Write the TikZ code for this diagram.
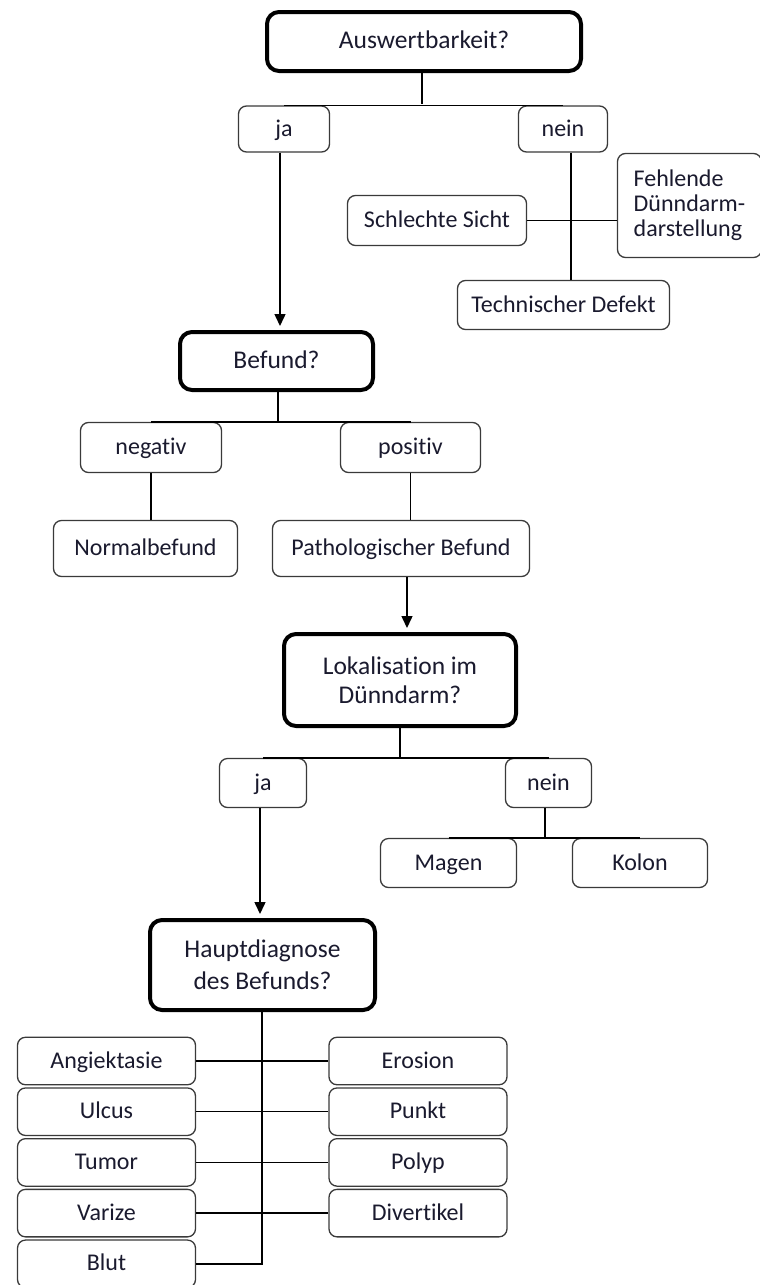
\documentclass[tikz,border=0pt]{standalone}
\usepackage{fontspec}
\setmainfont{Carlito}[Ligatures=CommonOff]
\usetikzlibrary{arrows.meta}
\definecolor{boxline}{HTML}{3A3A3A}
\definecolor{txt}{HTML}{1A1A2E}
\begin{document}
\begin{tikzpicture}[x=1pt,y=-1pt,
  every node/.style={font=\fontsize{24}{29}\selectfont, text=txt, inner sep=0pt},
  one/.style={text height=18pt, text depth=4pt},
  box/.style={draw=boxline, line width=1.3pt, rounded corners=8pt, fill=white, align=center},
  sbox/.style={box, one},
  qbox/.style={draw=black, line width=4pt, rounded corners=12pt, fill=white, align=center,
               font=\fontsize{25.5}{29}\selectfont},
  link/.style={draw=black, line width=1.5pt},
  arr/.style={link, -{Triangle[width=11pt,length=12pt]}, shorten >=4pt}]
\useasboundingbox (0,0) rectangle (760,1285);

% nodes
\node[qbox, one, minimum width=314pt, minimum height=59pt] (ausw) at (424,41.5) {Auswertbarkeit?};
\node[sbox, minimum width=91pt, minimum height=46pt] (ja1) at (284,129) {ja};
\node[sbox, minimum width=89pt, minimum height=46pt] (nein1) at (563,129) {nein};
\node[sbox, minimum width=179pt, minimum height=50pt] (sicht) at (437,220.5) {Schlechte Sicht};
\node[box, minimum width=144pt, minimum height=104pt, align=left,
      font=\fontsize{24}{25}\selectfont] (fehl) at (689.5,205.5) {Fehlende\\Dünndarm-\\darstellung};
\node[sbox, minimum width=212pt, minimum height=49pt] (tech) at (563.5,305) {Technischer Defekt};

\node[qbox, one, minimum width=193pt, minimum height=58pt] (befund) at (276.5,361) {Befund?};
\node[sbox, minimum width=141pt, minimum height=50pt] (neg) at (151,447.5) {negativ};
\node[sbox, minimum width=140pt, minimum height=50pt] (pos) at (410.5,447.5) {positiv};
\node[sbox, minimum width=184pt, minimum height=56pt] (normal) at (145.5,548.5) {Normalbefund};
\node[sbox, minimum width=257pt, minimum height=56pt] (patho) at (401,548.5) {Pathologischer Befund};

\node[qbox, minimum width=232pt, minimum height=92pt] (lok) at (400,680) {Lokalisation im\\Dünndarm?};
\node[sbox, minimum width=87pt, minimum height=49pt] (ja2) at (263,783) {ja};
\node[sbox, minimum width=86pt, minimum height=49pt] (nein2) at (548.5,783) {nein};
\node[sbox, minimum width=136pt, minimum height=49pt] (magen) at (448.5,863) {Magen};
\node[sbox, minimum width=135pt, minimum height=49pt] (kolon) at (640,863) {Kolon};

\node[qbox, minimum width=225pt, minimum height=90pt, font=\fontsize{25.5}{32}\selectfont] (haupt) at (262.5,965) {Hauptdiagnose\\des Befunds?};

\tikzset{lbox/.style={sbox, minimum width=178pt, minimum height=47.5pt}}
\node[lbox] (angi) at (106.5,1061) {Angiektasie};
\node[lbox] (ulcus) at (106.5,1111.7) {Ulcus};
\node[lbox] (tumor) at (106.5,1162.4) {Tumor};
\node[lbox] (varize) at (106.5,1213.1) {Varize};
\node[lbox] (blut) at (106.5,1263.8) {Blut};
\node[lbox] (erosion) at (418,1061) {Erosion};
\node[lbox] (punkt) at (418,1111.7) {Punkt};
\node[lbox] (polyp) at (418,1162.4) {Polyp};
\node[lbox] (divert) at (418,1213.1) {Divertikel};

% junction coordinates
\coordinate (t1) at (422,104);
\coordinate (n1) at (571,221);
\coordinate (a1) at (280,0);
\coordinate (t2) at (278,422);
\coordinate (a2) at (407,0);
\coordinate (t3) at (400,758);
\coordinate (n3) at (545,838);
\coordinate (a3) at (260,0);
\coordinate (t4) at (262,1263.8);

% connectors
\draw[link] (ausw.south -| t1) -- (t1);
\draw[link] (ja1.north) -- (nein1.north);
\draw[arr] (ja1.south -| a1) -- (befund.north -| a1);
\draw[link] (nein1.south -| n1) -- (tech.north -| n1);
\draw[link] (sicht.east) -- (fehl.west |- sicht.east);

\draw[link] (befund.south -| t2) -- (t2);
\draw[link] (neg.north) -- (pos.north);
\draw[link] (neg.south) -- (normal.north -| neg.south);
\draw[link] (pos.south) -- (patho.north -| pos.south);
\draw[arr] (patho.south -| a2) -- (lok.north -| a2);

\draw[link] (lok.south -| t3) -- (t3);
\draw[link] (ja2.north) -- (nein2.north);
\draw[link] (nein2.south -| n3) -- (n3);
\draw[link] (magen.north) -- (kolon.north);
\draw[arr] (ja2.south -| a3) -- (haupt.north -| a3);

\draw[link] (haupt.south -| t4) -- (t4) -- (blut.east);
\draw[link] (angi.east) -- (erosion.west);
\draw[link] (ulcus.east) -- (punkt.west);
\draw[link] (tumor.east) -- (polyp.west);
\draw[link] (varize.east) -- (divert.west);
\end{tikzpicture}
\end{document}
